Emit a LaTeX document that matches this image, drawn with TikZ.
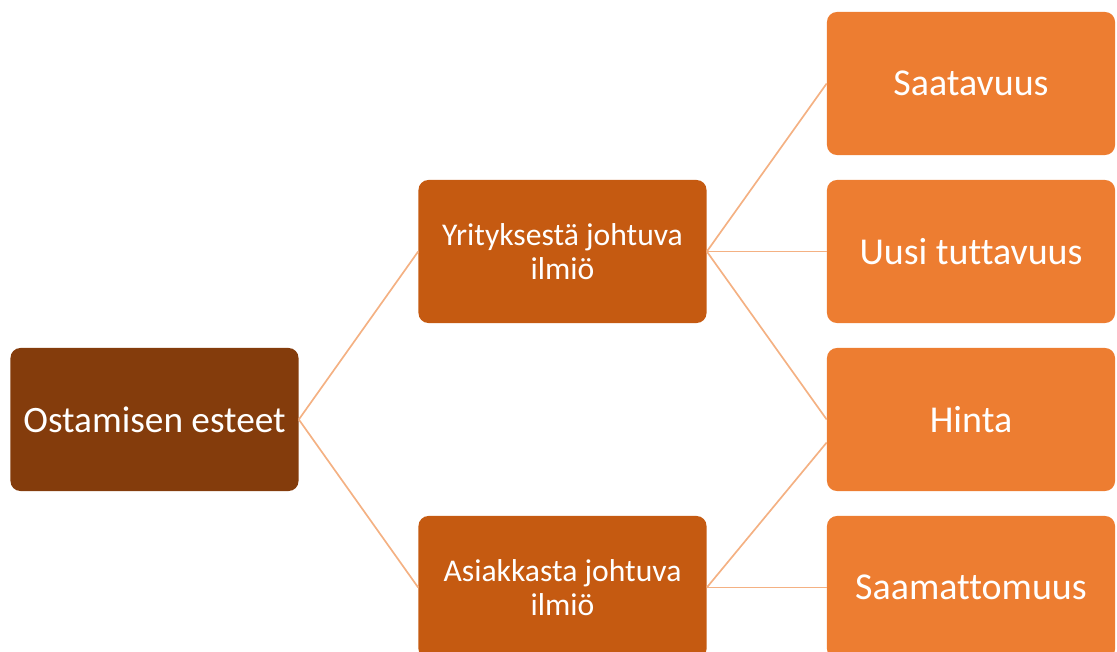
\documentclass[tikz,border=0pt]{standalone}
\usepackage{fontspec}
\setmainfont{Carlito}[Ligatures=NoCommon]
\usetikzlibrary{calc}
\definecolor{rootbrown}{HTML}{843C0C}
\definecolor{midorange}{HTML}{C55A11}
\definecolor{leaforange}{HTML}{ED7D31}
\definecolor{linkorange}{HTML}{F4B183}
\begin{document}
\begin{tikzpicture}[x=0.025cm,y=-0.025cm,
  box/.style={rounded corners=0.25cm,minimum width=7.2cm,minimum height=3.575cm,
    text=white,align=center,inner sep=0pt},
  rootbox/.style={box,fill=rootbrown,font=\fontsize{26.5}{30}\selectfont},
  midbox/.style={box,fill=midorange,font=\fontsize{22.5}{24.5}\selectfont},
  leafbox/.style={box,fill=leaforange,font=\fontsize{27}{30}\selectfont},
  link/.style={draw=linkorange,line width=1.2pt}]
\useasboundingbox (0,0) rectangle (1117,651);

\node [rootbox] (root) at (154.5,419.5) {Ostamisen esteet};

\node [midbox] (yritys) at (562.5,251.5) {Yrityksestä johtuva\\ilmiö};
\node [midbox] (asiakas) at (562.5,587.5) {Asiakkasta johtuva\\ilmiö};

\node [leafbox] (saatavuus) at (971,83.5) {Saatavuus};
\node [leafbox] (tuttavuus) at (971,251.5) {Uusi tuttavuus};
\node [leafbox] (hinta) at (971,419.5) {Hinta};
\node [leafbox] (saamatto) at (971,587.5) {Saamattomuus};

\coordinate (hintalow) at ($(hinta.west)+(0,23)$);

\draw [link] (root.east) -- (yritys.west);
\draw [link] (root.east) -- (asiakas.west);
\draw [link] (yritys.east) -- (saatavuus.west);
\draw [link] (yritys.east) -- (tuttavuus.west);
\draw [link] (yritys.east) -- (hinta.west);
\draw [link] (asiakas.east) -- (hintalow);
\draw [link] (asiakas.east) -- (saamatto.west);
\end{tikzpicture}
\end{document}
